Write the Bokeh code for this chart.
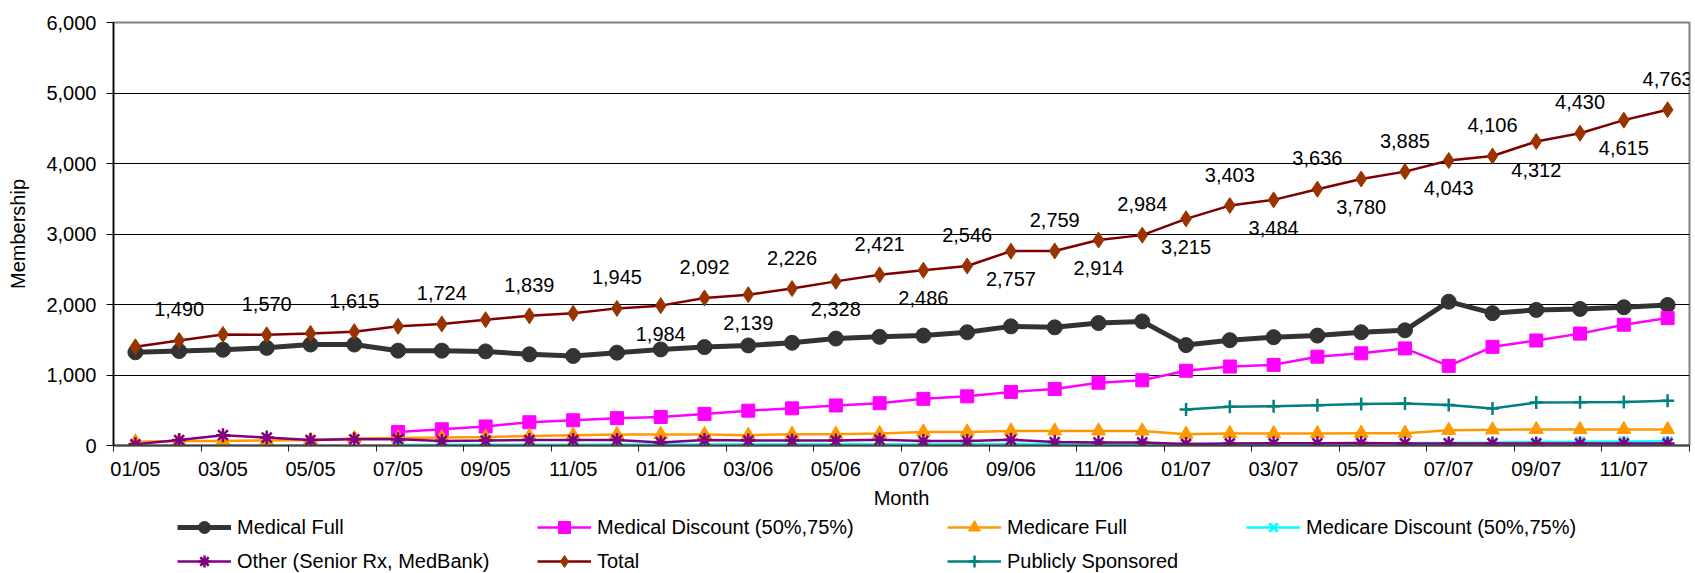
import numpy as np
from bokeh.plotting import figure
from bokeh.layouts import column
from bokeh.models import (Range1d, FixedTicker, NumeralTickFormatter, Legend,
                          LegendItem, ColumnDataSource)
from bokeh.embed import file_html
from bokeh.resources import INLINE
from bokeh.core.properties import value

months = ["01/05", "02/05", "03/05", "04/05", "05/05", "06/05", "07/05", "08/05",
          "09/05", "10/05", "11/05", "12/05", "01/06", "02/06", "03/06", "04/06",
          "05/06", "06/06", "07/06", "08/06", "09/06", "10/06", "11/06", "12/06",
          "01/07", "02/07", "03/07", "04/07", "05/07", "06/07", "07/07", "08/07",
          "09/07", "10/07", "11/07", "12/07"]

medical_full = [1322, 1340, 1358, 1385, 1432, 1432, 1345, 1345, 1335, 1293, 1270, 1317,
                1363, 1396, 1419, 1457, 1517, 1541, 1559, 1606, 1690, 1676, 1737, 1760,
                1424, 1494, 1536, 1559, 1606, 1634, 2040, 1877, 1923, 1937, 1961, 1993]

medical_discount = [None, None, None, None, None, None, 190, 230, 270, 330, 358, 388,
                    405, 448, 494, 527, 568, 600, 662, 697, 760, 800, 890, 925,
                    1060, 1120, 1144, 1260, 1307, 1377, 1130, 1400, 1489, 1587, 1713, 1807]

medicare_full = [53, 63, 65, 72, 77, 100, 107, 112, 121, 133, 147, 157,
                 157, 157, 147, 161, 161, 170, 193, 193, 207, 207, 207, 207,
                 161, 170, 170, 170, 175, 175, 215, 222, 227, 227, 227, 227]

medicare_discount = [None, None, None, None, None, None, 8, 10, 10, 12, 12, 14,
                     15, 15, 16, 17, 18, 18, 18, 18, 20, 18, 18, 18,
                     20, 22, 25, 28, 32, 35, 38, 42, 48, 52, 58, 62]

other = [17, 77, 147, 112, 77, 88, 90, 65, 70, 77, 77, 77,
         44, 77, 70, 70, 70, 80, 63, 63, 80, 48, 44, 44,
         22, 30, 32, 32, 35, 30, 30, 30, 28, 28, 28, 28]

total = [1400, 1490, 1575, 1570, 1590, 1615, 1690, 1724, 1785, 1839, 1875, 1945,
         1984, 2092, 2139, 2226, 2328, 2421, 2486, 2546, 2757, 2759, 2914, 2984,
         3215, 3403, 3484, 3636, 3780, 3885, 4043, 4106, 4312, 4430, 4615, 4763]

publicly_sponsored = [None] * 24 + [512, 548, 556, 570, 590, 595, 575, 525, 610, 612, 618, 635]

y_ticks = [0, 1000, 2000, 3000, 4000, 5000, 6000]

FONT = "Liberation Sans"
W = 1695
H_MAIN = 511
H_LEG = 62
LEFT = 113
RIGHT = 6

p = figure(width=W, height=H_MAIN, output_backend="svg", toolbar_location=None,
           x_range=Range1d(-0.5, len(months) - 0.5), y_range=Range1d(0, 6000),
           min_border_left=LEFT, min_border_right=RIGHT, min_border_top=22,
           min_border_bottom=60)
p.background_fill_color = "white"
p.border_fill_color = "white"
p.outline_line_color = "#808080"
p.outline_line_width = 2

# grid
p.xgrid.visible = False
p.ygrid.ticker = FixedTicker(ticks=y_ticks[1:-1])
p.ygrid.grid_line_color = "#000000"
p.ygrid.grid_line_width = 1

# y axis
ya = p.yaxis[0]
ya.ticker = FixedTicker(ticks=y_ticks)
ya.formatter = NumeralTickFormatter(format="0,0")
ya.major_tick_out = 7
ya.major_tick_in = 0
ya.minor_tick_line_color = None
ya.axis_line_color = "#000000"
ya.axis_line_width = 1.5
ya.major_tick_line_color = "#000000"
ya.major_label_text_font = FONT
ya.major_label_text_font_size = "20px"
ya.major_label_text_color = "#000000"
ya.major_label_standoff = 10
ya.axis_label = "Membership"
ya.axis_label_text_font = FONT
ya.axis_label_text_font_size = "20px"
ya.axis_label_text_font_style = "normal"
ya.axis_label_text_color = "#000000"
ya.axis_label_standoff = 14

# x axis
n = len(months)
xa = p.xaxis[0]
label_pos = list(range(0, n, 2))
xa.ticker = FixedTicker(ticks=label_pos, minor_ticks=[i - 0.5 for i in range(0, n + 1, 2)])
xa.major_label_overrides = {i: months[i] for i in label_pos}
xa.major_tick_line_color = None
xa.major_tick_out = 6
xa.major_tick_in = 0
xa.minor_tick_out = 6
xa.minor_tick_in = 0
xa.minor_tick_line_color = "#202020"
xa.minor_tick_line_width = 1
xa.axis_line_color = "#404040"
xa.axis_line_width = 2
xa.major_label_text_font = FONT
xa.major_label_text_font_size = "20px"
xa.major_label_text_color = "#000000"
xa.major_label_standoff = 6
xa.axis_label = "Month"
xa.axis_label_text_font = FONT
xa.axis_label_text_font_size = "20px"
xa.axis_label_text_font_style = "normal"
xa.axis_label_text_color = "#000000"
xa.axis_label_standoff = 4

# legend-only figure below the chart (its ranges keep the series out of view)
lf = figure(width=W, height=H_LEG, output_backend="svg", toolbar_location=None,
            x_range=Range1d(0, 1), y_range=Range1d(-2, -1),
            x_axis_location=None, y_axis_location=None,
            min_border_left=LEFT, min_border_right=RIGHT, min_border_top=0,
            min_border_bottom=0)
lf.outline_line_color = None
lf.xgrid.visible = False
lf.ygrid.visible = False
lf.background_fill_color = "white"
lf.border_fill_color = "white"

xs = list(range(n))

STYLES = {
    "Medical Full": dict(color="#333333", lw=5, marker="circle", size=15),
    "Medical Discount (50%,75%)": dict(color="#FF00FF", lw=2.5, marker="square", size=13),
    "Medicare Full": dict(color="#FF9900", lw=2.5, marker="triangle", size=14),
    "Medicare Discount (50%,75%)": dict(color="#00FFFF", lw=2.5, marker="x", size=13, mlw=2.5),
    "Other (Senior Rx, MedBank)": dict(color="#800080", lw=2.5, marker="asterisk", size=14, mlw=2.5),
    "Total": dict(color="#800000", lw=2.5, marker="diamond", size=16, mcolor="#993300"),
    "Publicly Sponsored": dict(color="#008080", lw=2.5, marker="cross", size=13, mlw=2.5),
}


def draw(fig, name, xvals, yvals):
    st = STYLES[name]
    src = ColumnDataSource(dict(x=xvals, y=np.array(yvals, dtype=float)))
    mc = st.get("mcolor", st["color"])
    l = fig.line("x", "y", source=src, line_color=st["color"], line_width=st["lw"])
    s = fig.scatter("x", "y", source=src, marker=st["marker"], size=st["size"],
                    fill_color=mc, line_color=mc, line_width=st.get("mlw", 1.0))
    return [l, s]


series = [
    ("Medical Full", medical_full),
    ("Medical Discount (50%,75%)", medical_discount),
    ("Medicare Full", medicare_full),
    ("Medicare Discount (50%,75%)", medicare_discount),
    ("Other (Senior Rx, MedBank)", other),
    ("Total", total),
    ("Publicly Sponsored", publicly_sponsored),
]
for name, vals in series:
    draw(p, name, xs, vals)

# data labels on Total
above = [i for i in range(n) if i % 2 == 1]
below = [i for i in range(12, n) if i % 2 == 0]
for idx, off in ((above, -31), (below, 28)):
    p.text(x=[xs[i] for i in idx], y=[total[i] for i in idx],
           text=[f"{total[i]:,}" for i in idx], text_align="center",
           text_baseline="middle", y_offset=off, text_font=value(FONT),
           text_font_size="20px", text_color="#000000")

# same series in the legend figure, outside its visible ranges (only legend glyphs show)
leg_r = {name: draw(lf, name, xs, vals) for name, vals in series}


def add_legend(names, loc):
    lg = Legend(items=[LegendItem(label=nm, renderers=leg_r[nm]) for nm in names],
                location=loc, orientation="vertical", padding=0, margin=0,
                spacing=4, glyph_width=54, glyph_height=30, label_height=30,
                label_standoff=6, label_text_font=FONT, label_text_font_size="20px",
                label_text_color="#000000", border_line_color=None,
                background_fill_alpha=0)
    lf.add_layout(lg)


add_legend(["Medical Full", "Other (Senior Rx, MedBank)"], (177 - LEFT, -3))
add_legend(["Medical Discount (50%,75%)", "Total"], (537 - LEFT, -3))
add_legend(["Medicare Full", "Publicly Sponsored"], (947 - LEFT, -3))
add_legend(["Medicare Discount (50%,75%)"], (1246 - LEFT, 31))

layout = column(p, lf, spacing=0)
open("out.html", "w").write(file_html(layout, INLINE))
